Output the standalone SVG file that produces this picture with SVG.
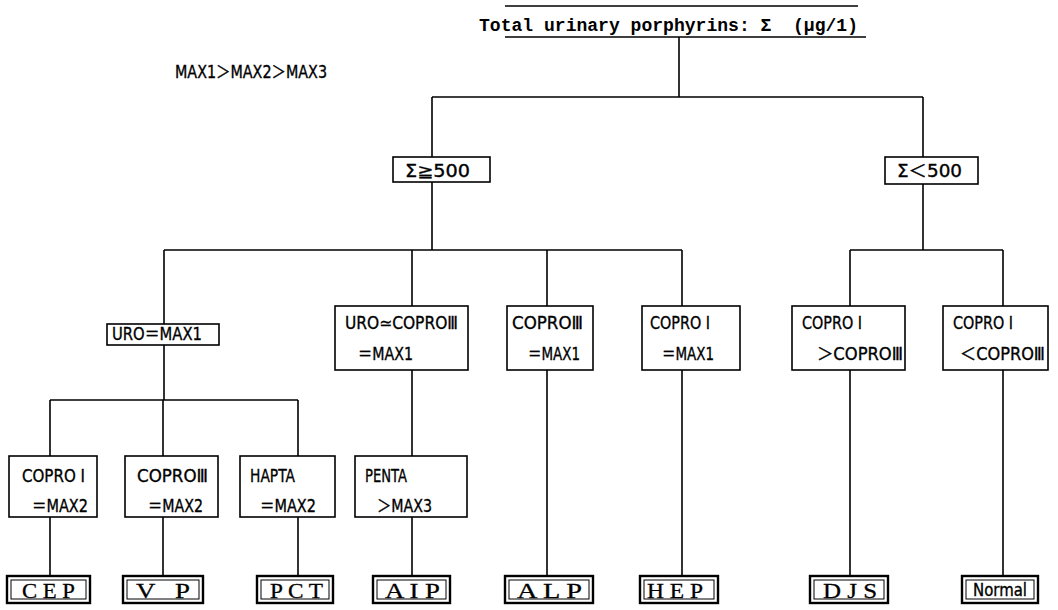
<svg xmlns="http://www.w3.org/2000/svg" width="1058" height="610" viewBox="0 0 1058 610">
<style>
.ln{stroke:#000;stroke-width:1.6;fill:none}
.bx{stroke:#000;stroke-width:1.6;fill:#fff}
.ob{stroke:#000;stroke-width:2.4;fill:#fff}
.ib{stroke:#000;stroke-width:1;fill:none}
.t{font-family:"DejaVu Sans","Noto Sans CJK JP",sans-serif;font-size:17px;fill:#000;stroke:#000;stroke-width:0.35}
.m{font-family:"Liberation Serif","Noto Sans CJK JP",serif;font-size:22px;fill:#000;stroke:#000;stroke-width:0.3}
.tt{font-family:"Liberation Mono","Noto Sans CJK JP",monospace;font-size:19px;font-weight:bold;fill:#000}
</style>
<rect width="1058" height="610" fill="#fff"/>
<g id="connectors">
<path class="ln" d="M505 6H858M505 37H866"/>
<path class="ln" d="M679 37V97M432 97H923M432 97V157M923 97V157"/>
<path class="ln" d="M432 182V250M164 250H682M164 250V324M412 250V306M547 250V306M682 250V306"/>
<path class="ln" d="M923 184V250M850 250H1003M850 250V306M1003 250V306"/>
<path class="ln" d="M164 345V400M50 400H298M50 400V456M163 400V456M298 400V456M412 370V456"/>
<path class="ln" d="M50 517V576M163 517V576M298 517V576M412 517V576M547 370V576M682 370V576M850 370V576M1003 370V576"/>
</g>
<g id="title"><text class="tt" x="479" y="31" textLength="379" lengthAdjust="spacingAndGlyphs" xml:space="preserve">Total urinary porphyrins: Σ  (μg/1)</text></g>
<g id="legend"><text class="t" x="175" y="78" textLength="152" lengthAdjust="spacingAndGlyphs">MAX1＞MAX2＞MAX3</text></g>
<g id="sum-ge"><rect class="bx" x="393" y="157" width="97" height="25"/><text class="t" x="405" y="177" textLength="65" lengthAdjust="spacingAndGlyphs">Σ≧500</text></g>
<g id="sum-lt"><rect class="bx" x="885" y="157" width="93" height="27"/><text class="t" x="897" y="177" textLength="65" lengthAdjust="spacingAndGlyphs">Σ＜500</text></g>
<g id="uro"><rect class="bx" x="107" y="324" width="112" height="21"/><text class="t" x="112" y="340" textLength="90" lengthAdjust="spacingAndGlyphs">URO＝MAX1</text></g>
<g id="uro-copro3"><rect class="bx" x="335" y="306" width="133" height="64"/><text class="t" x="345" y="329" textLength="113" lengthAdjust="spacingAndGlyphs">URO≃COPROⅢ</text><text class="t" x="358" y="360" textLength="55" lengthAdjust="spacingAndGlyphs">＝MAX1</text></g>
<g id="copro3-max1"><rect class="bx" x="507" y="306" width="86" height="64"/><text class="t" x="512" y="329" textLength="71" lengthAdjust="spacingAndGlyphs">COPROⅢ</text><text class="t" x="528" y="360" textLength="52" lengthAdjust="spacingAndGlyphs">＝MAX1</text></g>
<g id="copro1-max1"><rect class="bx" x="642" y="306" width="98" height="64"/><text class="t" x="650" y="329" textLength="60" lengthAdjust="spacingAndGlyphs">COPRO Ⅰ</text><text class="t" x="662" y="360" textLength="52" lengthAdjust="spacingAndGlyphs">＝MAX1</text></g>
<g id="copro1-gt"><rect class="bx" x="792" y="306" width="113" height="64"/><text class="t" x="802" y="329" textLength="60" lengthAdjust="spacingAndGlyphs">COPRO Ⅰ</text><text class="t" x="817" y="360" textLength="86" lengthAdjust="spacingAndGlyphs">＞COPROⅢ</text></g>
<g id="copro1-lt"><rect class="bx" x="943" y="306" width="105" height="64"/><text class="t" x="953" y="329" textLength="60" lengthAdjust="spacingAndGlyphs">COPRO Ⅰ</text><text class="t" x="960" y="360" textLength="85" lengthAdjust="spacingAndGlyphs">＜COPROⅢ</text></g>
<g id="copro1-max2"><rect class="bx" x="9" y="456" width="88" height="61"/><text class="t" x="22" y="482" textLength="63" lengthAdjust="spacingAndGlyphs">COPRO Ⅰ</text><text class="t" x="32" y="512" textLength="56" lengthAdjust="spacingAndGlyphs">＝MAX2</text></g>
<g id="copro3-max2"><rect class="bx" x="125" y="456" width="93" height="61"/><text class="t" x="137" y="482" textLength="71" lengthAdjust="spacingAndGlyphs">COPROⅢ</text><text class="t" x="148" y="512" textLength="55" lengthAdjust="spacingAndGlyphs">＝MAX2</text></g>
<g id="hapta"><rect class="bx" x="240" y="456" width="95" height="61"/><text class="t" x="250" y="482" textLength="45" lengthAdjust="spacingAndGlyphs">HAPTA</text><text class="t" x="260" y="512" textLength="56" lengthAdjust="spacingAndGlyphs">＝MAX2</text></g>
<g id="penta"><rect class="bx" x="355" y="456" width="112" height="61"/><text class="t" x="365" y="482" textLength="42" lengthAdjust="spacingAndGlyphs">PENTA</text><text class="t" x="377" y="512" textLength="55" lengthAdjust="spacingAndGlyphs">＞MAX3</text></g>
<g id="cep"><rect class="ob" x="7" y="576" width="83" height="27"/><rect class="ib" x="11" y="580" width="75" height="19"/><text class="m" x="22" y="598" textLength="53" lengthAdjust="spacingAndGlyphs">C E P</text></g>
<g id="vp"><rect class="ob" x="123" y="576" width="80" height="27"/><rect class="ib" x="127" y="580" width="72" height="19"/><text class="m" x="136" y="598" textLength="54" lengthAdjust="spacingAndGlyphs" xml:space="preserve">V   P</text></g>
<g id="pct"><rect class="ob" x="257" y="576" width="76" height="27"/><rect class="ib" x="261" y="580" width="68" height="19"/><text class="m" x="270" y="598" textLength="53" lengthAdjust="spacingAndGlyphs">P C T</text></g>
<g id="aip"><rect class="ob" x="373" y="576" width="77" height="27"/><rect class="ib" x="377" y="580" width="69" height="19"/><text class="m" x="385" y="598" textLength="55" lengthAdjust="spacingAndGlyphs">A I P</text></g>
<g id="alp"><rect class="ob" x="505" y="576" width="88" height="27"/><rect class="ib" x="509" y="580" width="80" height="19"/><text class="m" x="517" y="598" textLength="65" lengthAdjust="spacingAndGlyphs">A L P</text></g>
<g id="hep"><rect class="ob" x="640" y="576" width="78" height="27"/><rect class="ib" x="644" y="580" width="70" height="19"/><text class="m" x="647" y="598" textLength="56" lengthAdjust="spacingAndGlyphs">H E P</text></g>
<g id="djs"><rect class="ob" x="810" y="576" width="78" height="27"/><rect class="ib" x="814" y="580" width="70" height="19"/><text class="m" x="823" y="598" textLength="54" lengthAdjust="spacingAndGlyphs">D J S</text></g>
<g id="normal"><rect class="ob" x="962" y="576" width="76" height="27"/><rect class="ib" x="966" y="580" width="68" height="19"/><text class="t" x="973" y="596" font-size="15" textLength="54" lengthAdjust="spacingAndGlyphs">Normal</text></g>
</svg>
